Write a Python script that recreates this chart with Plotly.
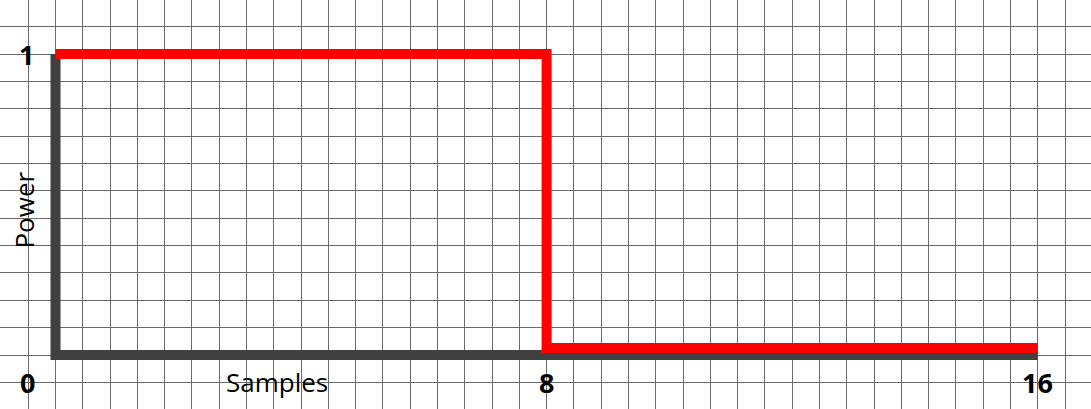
import plotly.graph_objects as go

# ---- data ----
axis_x = [0, 0, 16]
axis_y = [1, 0, 0]
power_x = [0, 8, 8, 16]
power_y = [1, 1, 0.023, 0.023]

x_tick_vals = [8, 16]
x_tick_text = ["8", "16"]
origin_label = "0"
y_tick_vals = [1]
y_tick_text = ["1"]
x_title = "Samples"
y_title = "Power"

# ---- figure ----
W, H = 1091, 409
fig = go.Figure()
fig.add_trace(go.Scatter(x=axis_x, y=axis_y, mode="lines",
                         line=dict(color="#404040", width=10),
                         hoverinfo="skip", showlegend=False))
fig.add_trace(go.Scatter(x=power_x, y=power_y, mode="lines",
                         line=dict(color="#ff0000", width=10),
                         hoverinfo="skip", showlegend=False))

tick_font = dict(family="Open Sans", size=27, color="black", weight="bold")
label_y = -0.0897
for v, t in zip(x_tick_vals, x_tick_text):
    fig.add_annotation(x=v, y=label_y, text=t, showarrow=False,
                       font=tick_font, xanchor="center", yanchor="middle")
fig.add_annotation(x=0, y=label_y, xshift=-28, text=origin_label, showarrow=False,
                   font=tick_font, xanchor="center", yanchor="middle")
for v, t in zip(y_tick_vals, y_tick_text):
    fig.add_annotation(x=0, y=v, xshift=-29, text=t, showarrow=False,
                       font=tick_font, xanchor="center", yanchor="middle")

fig.add_annotation(x=277 / W, xref="paper", y=label_y, text=x_title, showarrow=False,
                   font=dict(family="Open Sans", size=26, color="black"),
                   xanchor="center", yanchor="middle")
fig.add_annotation(x=24 / W, xref="paper", y=0.48, text=y_title, showarrow=False,
                   textangle=-90,
                   font=dict(family="Open Sans", size=26, color="black"),
                   xanchor="center", yanchor="middle")

fig.update_layout(
    width=W, height=H, autosize=False,
    margin=dict(l=0, r=0, t=0, b=0),
    plot_bgcolor="white", paper_bgcolor="white",
    xaxis=dict(range=[-0.904, 16.868], tick0=8, dtick=4 / 9,
               showgrid=True, gridcolor="#6a6a6a", gridwidth=1,
               zeroline=False, showline=False, showticklabels=False, ticks=""),
    yaxis=dict(range=[-0.1794, 1.1794], tick0=0, dtick=1 / 11,
               showgrid=True, gridcolor="#6a6a6a", gridwidth=1,
               zeroline=False, showline=False, showticklabels=False, ticks=""),
)
fig.write_html("out.html", config={"displayModeBar": False},
               post_script="document.body.style.margin='0';")
